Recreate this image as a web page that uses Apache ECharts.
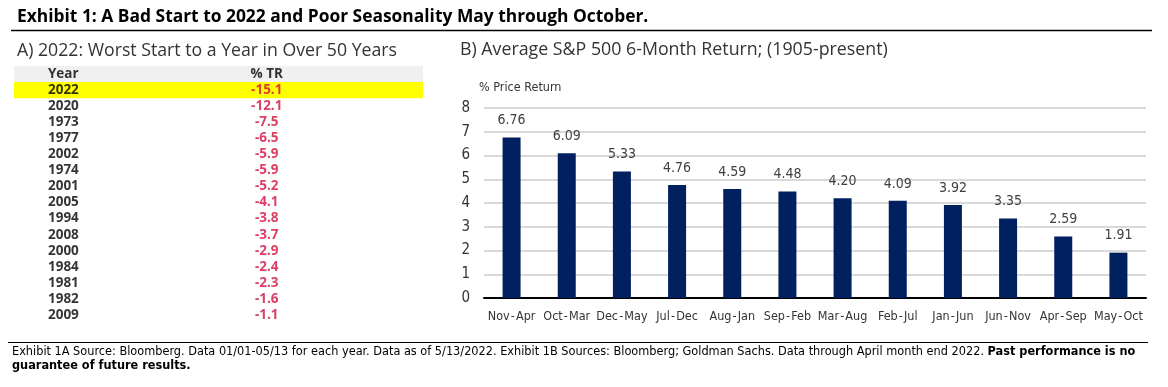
<!DOCTYPE html>
<html>
<head>
<meta charset="utf-8">
<script src="https://cdn.jsdelivr.net/npm/echarts@6/dist/echarts.min.js"></script>
<style>
html,body{margin:0;padding:0;background:#fff;}
#chart{width:1168px;height:387px;}
</style>
</head>
<body>
<div id="chart"></div>
<script>
// ---- Data ----
const tableYears = ['2022','2020','1973','1977','2002','1974','2001','2005','1994','2008','2000','1984','1981','1982','2009'];
const tableReturns = [-15.1,-12.1,-7.5,-6.5,-5.9,-5.9,-5.2,-4.1,-3.8,-3.7,-2.9,-2.4,-2.3,-1.6,-1.1];
const tableHeaders = ['Year','% TR'];
const highlightYear = '2022';

const periods = ['Nov\u200a-\u200aApr','Oct\u200a-\u200aMar','Dec\u200a-\u200aMay','Jul\u200a-\u200aDec','Aug\u200a-\u200aJan','Sep\u200a-\u200aFeb','Mar\u200a-\u200aAug','Feb\u200a-\u200aJul','Jan\u200a-\u200aJun','Jun\u200a-\u200aNov','Apr\u200a-\u200aSep','May\u200a-\u200aOct'];
const avgReturns = [6.76,6.09,5.33,4.76,4.59,4.48,4.20,4.09,3.92,3.35,2.59,1.91];

const mainTitle = 'Exhibit 1: A Bad Start to 2022 and Poor Seasonality May through October.';
const leftTitle = 'A) 2022: Worst Start to a Year in Over 50 Years';
const rightTitle = 'B) Average S&P 500 6-Month Return; (1905-present)';
const yAxisTitle = '% Price Return';
const footnote1 = 'Exhibit 1A Source: Bloomberg. Data 01/01-05/13 for each year. Data as of 5/13/2022. Exhibit 1B Sources: Bloomberg; Goldman Sachs. Data through April month end 2022. ';
const footnoteBold1 = 'Past performance is no';
const footnoteBold2 = 'guarantee of future results.';

// ---- Build ----
const NARROW = '"DejaVu Sans Condensed",sans-serif';
const rows = [tableHeaders[0]].concat(tableYears);
const YEAR_X = 0.083, VAL_X = 0.618;

const chart = echarts.init(document.getElementById('chart'), null, {renderer:'canvas'});
chart.setOption({
  animation:false,
  backgroundColor:'#fff',
  title:[
    {text:mainTitle, left:12, top:4, textStyle:{fontFamily:'"Open Sans"', fontWeight:'bold', fontSize:17.4, color:'#000'}},
    {text:leftTitle, left:12, top:37, textStyle:{fontFamily:'"Open Sans"', fontWeight:'normal', fontSize:17.7, color:'#333'}},
    {text:rightTitle, left:455, top:36, textStyle:{fontFamily:'"Open Sans"', fontWeight:'normal', fontSize:17.8, color:'#333'}},
    {text:yAxisTitle, left:474, top:76, textStyle:{fontFamily:NARROW, fontWeight:'normal', fontSize:12.5, color:'#333'}}
  ],
  graphic:[
    {type:'line', shape:{x1:11, y1:30.5, x2:1152, y2:30.5}, style:{stroke:'#000', lineWidth:1.5}},
    {type:'line', shape:{x1:8, y1:342.5, x2:1148, y2:342.5}, style:{stroke:'#000', lineWidth:1}},
    {type:'text', left:12, top:345, style:{
      text:'{n|'+footnote1+'}{b|'+footnoteBold1+'}\n{b|'+footnoteBold2+'}',
      rich:{
        n:{fontFamily:NARROW, fontSize:12.6, color:'#222', lineHeight:14},
        b:{fontFamily:NARROW, fontSize:12.6, fontWeight:'bold', color:'#000', lineHeight:14}
      }
    }}
  ],
  grid:[
    {left:14, width:409, top:66, height:257},
    {left:484, right:22, top:108, bottom:89}
  ],
  xAxis:[
    {gridIndex:0, type:'value', min:0, max:1, show:false},
    {gridIndex:1, type:'category', data:periods,
     axisLine:{lineStyle:{color:'#000', width:2}}, axisTick:{show:false},
     axisLabel:{fontFamily:NARROW, fontSize:12.5, color:'#333', margin:12, interval:0}}
  ],
  yAxis:[
    {gridIndex:0, type:'category', data:rows, inverse:true, show:false},
    {gridIndex:1, type:'value', min:0, max:8, interval:1,
     axisLine:{show:false}, axisTick:{show:false},
     axisLabel:{fontFamily:NARROW, fontSize:15, color:'#333', margin:14},
     splitLine:{lineStyle:{color:'#d9d9d9', width:2}}}
  ],
  series:[
    {type:'bar', xAxisIndex:0, yAxisIndex:0, barCategoryGap:0, silent:true, z:1,
     data:rows.map(r => ({value:1, itemStyle:{color: r===tableHeaders[0] ? '#f0f0f0' : (r===highlightYear ? '#ffff00' : 'rgba(0,0,0,0)')}}))},
    {type:'scatter', xAxisIndex:0, yAxisIndex:0, symbolSize:0, z:5,
     data:rows.map(r => [YEAR_X, r]),
     label:{show:true, position:'right', distance:0, formatter:p => p.value[1],
            fontFamily:'"Open Sans"', fontWeight:'bold', fontSize:13.5, color:'#000'}},
    {type:'scatter', xAxisIndex:0, yAxisIndex:0, symbolSize:0, z:5,
     data:[{value:[VAL_X, tableHeaders[0]], label:{formatter:tableHeaders[1], color:'#000'}}]
       .concat(tableReturns.map((v,i) => ({value:[VAL_X, tableYears[i], v]}))),
     label:{show:true, position:'inside', formatter:p => p.value[2].toFixed(1),
            fontFamily:'"Open Sans"', fontWeight:'bold', fontSize:13.5, color:'#d40f3c'}},
    {type:'bar', xAxisIndex:1, yAxisIndex:1, data:avgReturns, barWidth:18,
     itemStyle:{color:'#002060'},
     label:{show:true, position:'top', distance:10, formatter:p => p.value.toFixed(2),
            fontFamily:NARROW, fontSize:14, color:'#404040'}}
  ]
});
</script>
</body>
</html>
